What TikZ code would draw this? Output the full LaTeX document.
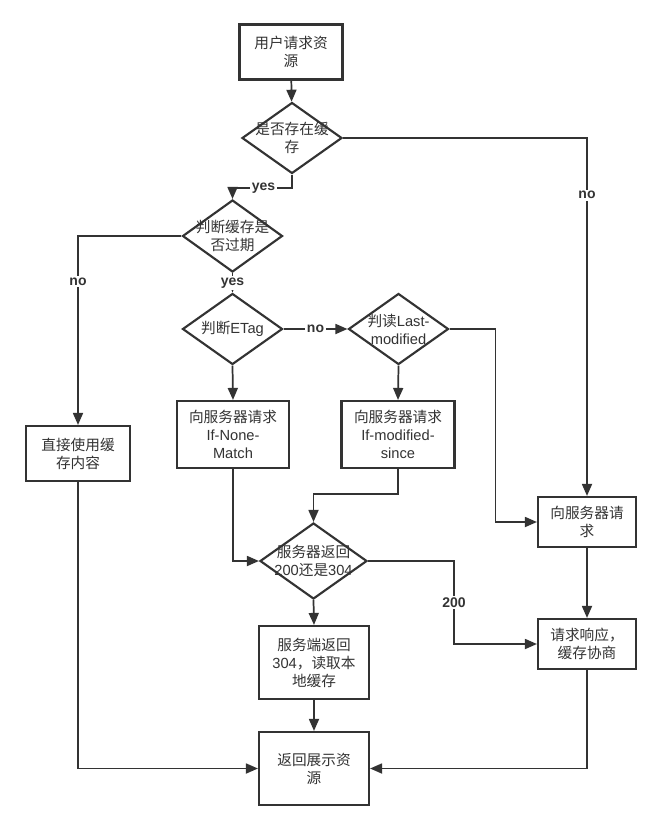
\documentclass[tikz,border=0pt]{standalone}
\usepackage{fontspec}
\setmainfont{Noto Sans CJK SC}
\newfontfamily\lat{Liberation Sans}
\usetikzlibrary{shapes.geometric,arrows.meta}
\definecolor{ink}{HTML}{333333}
\begin{document}
\begin{tikzpicture}[x=0.75pt,y=-0.75pt,
 txt/.style={text=ink, font=\fontsize{11pt}{13.5pt}\selectfont, align=center},
 box/.style={draw=ink, line width=1.6pt, rectangle, inner sep=0pt, txt},
 dia/.style={draw=ink, line width=1.6pt, diamond, inner sep=0pt},
 arr/.style={draw=ink, line width=1.3pt, -{Triangle[length=9pt,width=7.5pt]}},
 lbl/.style={fill=white, inner sep=1.2pt, text=ink, font=\lat\bfseries\fontsize{10.5pt}{12pt}\selectfont}]
\useasboundingbox (0,0) rectangle (664,817);
\fill[white] (0,0) rectangle (664,817);

\node[box, minimum width=77.25pt, minimum height=41.25pt] (b1) at (291,52) {用户请求资\\源};
\node[dia, minimum width=75pt, minimum height=53.25pt, label={[txt]center:{是否存在缓\\存}}] (d1) at (292,138) {};
\node[dia, minimum width=75pt, minimum height=54pt, label={[txt]center:{判断缓存是\\否过期}}] (d2) at (232.5,236) {};
\node[dia, minimum width=75pt, minimum height=53.25pt, label={[txt]center:{判断{\lat ETag}}}] (d3) at (232.5,329) {};
\node[dia, minimum width=75pt, minimum height=53.25pt, label={[txt]center:{判读{\lat Last-}\\{\lat modified}}}] (d4) at (398.5,329) {};
\node[box, minimum width=84pt, minimum height=50.25pt] (bn) at (233,434.5) {向服务器请求\\{\lat If-None-}\\{\lat Match}};
\node[box, minimum width=84.75pt, minimum height=50.25pt] (bm) at (398,434.5) {向服务器请求\\{\lat If-modified-}\\{\lat since}};
\node[box, minimum width=78pt, minimum height=41.25pt] (c1) at (78,453.5) {直接使用缓\\存内容};
\node[box, minimum width=73.5pt, minimum height=37.5pt] (rb1) at (587,522) {向服务器请\\求};
\node[dia, minimum width=80.25pt, minimum height=57pt, label={[txt]center:{服务器返回\\{\lat 200}还是{\lat 304}}}] (d5) at (313.5,561) {};
\node[box, minimum width=73.5pt, minimum height=37.5pt] (rr) at (587,644) {请求响应，\\缓存协商};
\node[box, minimum width=82.5pt, minimum height=54.75pt] (s304) at (314,662.5) {服务端返回\\{\lat 304}，读取本\\地缓存};
\node[box, minimum width=82.5pt, minimum height=54.75pt] (ret) at (314,768.5) {返回展示资\\源};

\draw[arr] (b1) -- (d1);
\draw[arr] (d1.south) |- node[lbl, pos=0.74]{yes} (d2.north |- 0,188) -- (d2.north);
\draw[arr] (d1.east) -| node[lbl, pos=0.58]{no} (rb1.north);
\draw[arr] (d2.west) -| node[lbl, pos=0.62]{no} (c1.north);
\draw[arr] (d2.south) -- node[lbl]{yes} (d3.north);
\draw[arr] (d3.east) -- node[lbl]{no} (d4.west);
\draw[arr] (d4.east) -- ++(46,0) |- (rb1.west);
\draw[arr] (d3.south) -- (bn.north);
\draw[arr] (d4.south) -- (bm.north);
\draw[arr] (bm.south) -- ++(0,25) -| (d5.north);
\draw[arr] (bn.south) |- (d5.west);
\draw[arr] (d5.east) -- ++(86,0) |- node[lbl, pos=0.25]{200} (rr.west);
\draw[arr] (rb1.south) -- (rr.north);
\draw[arr] (d5.south) -- (s304.north);
\draw[arr] (s304.south) -- (ret.north);
\draw[arr] (c1.south) |- (ret.west);
\draw[arr] (rr.south) |- (ret.east);
\end{tikzpicture}
\end{document}
